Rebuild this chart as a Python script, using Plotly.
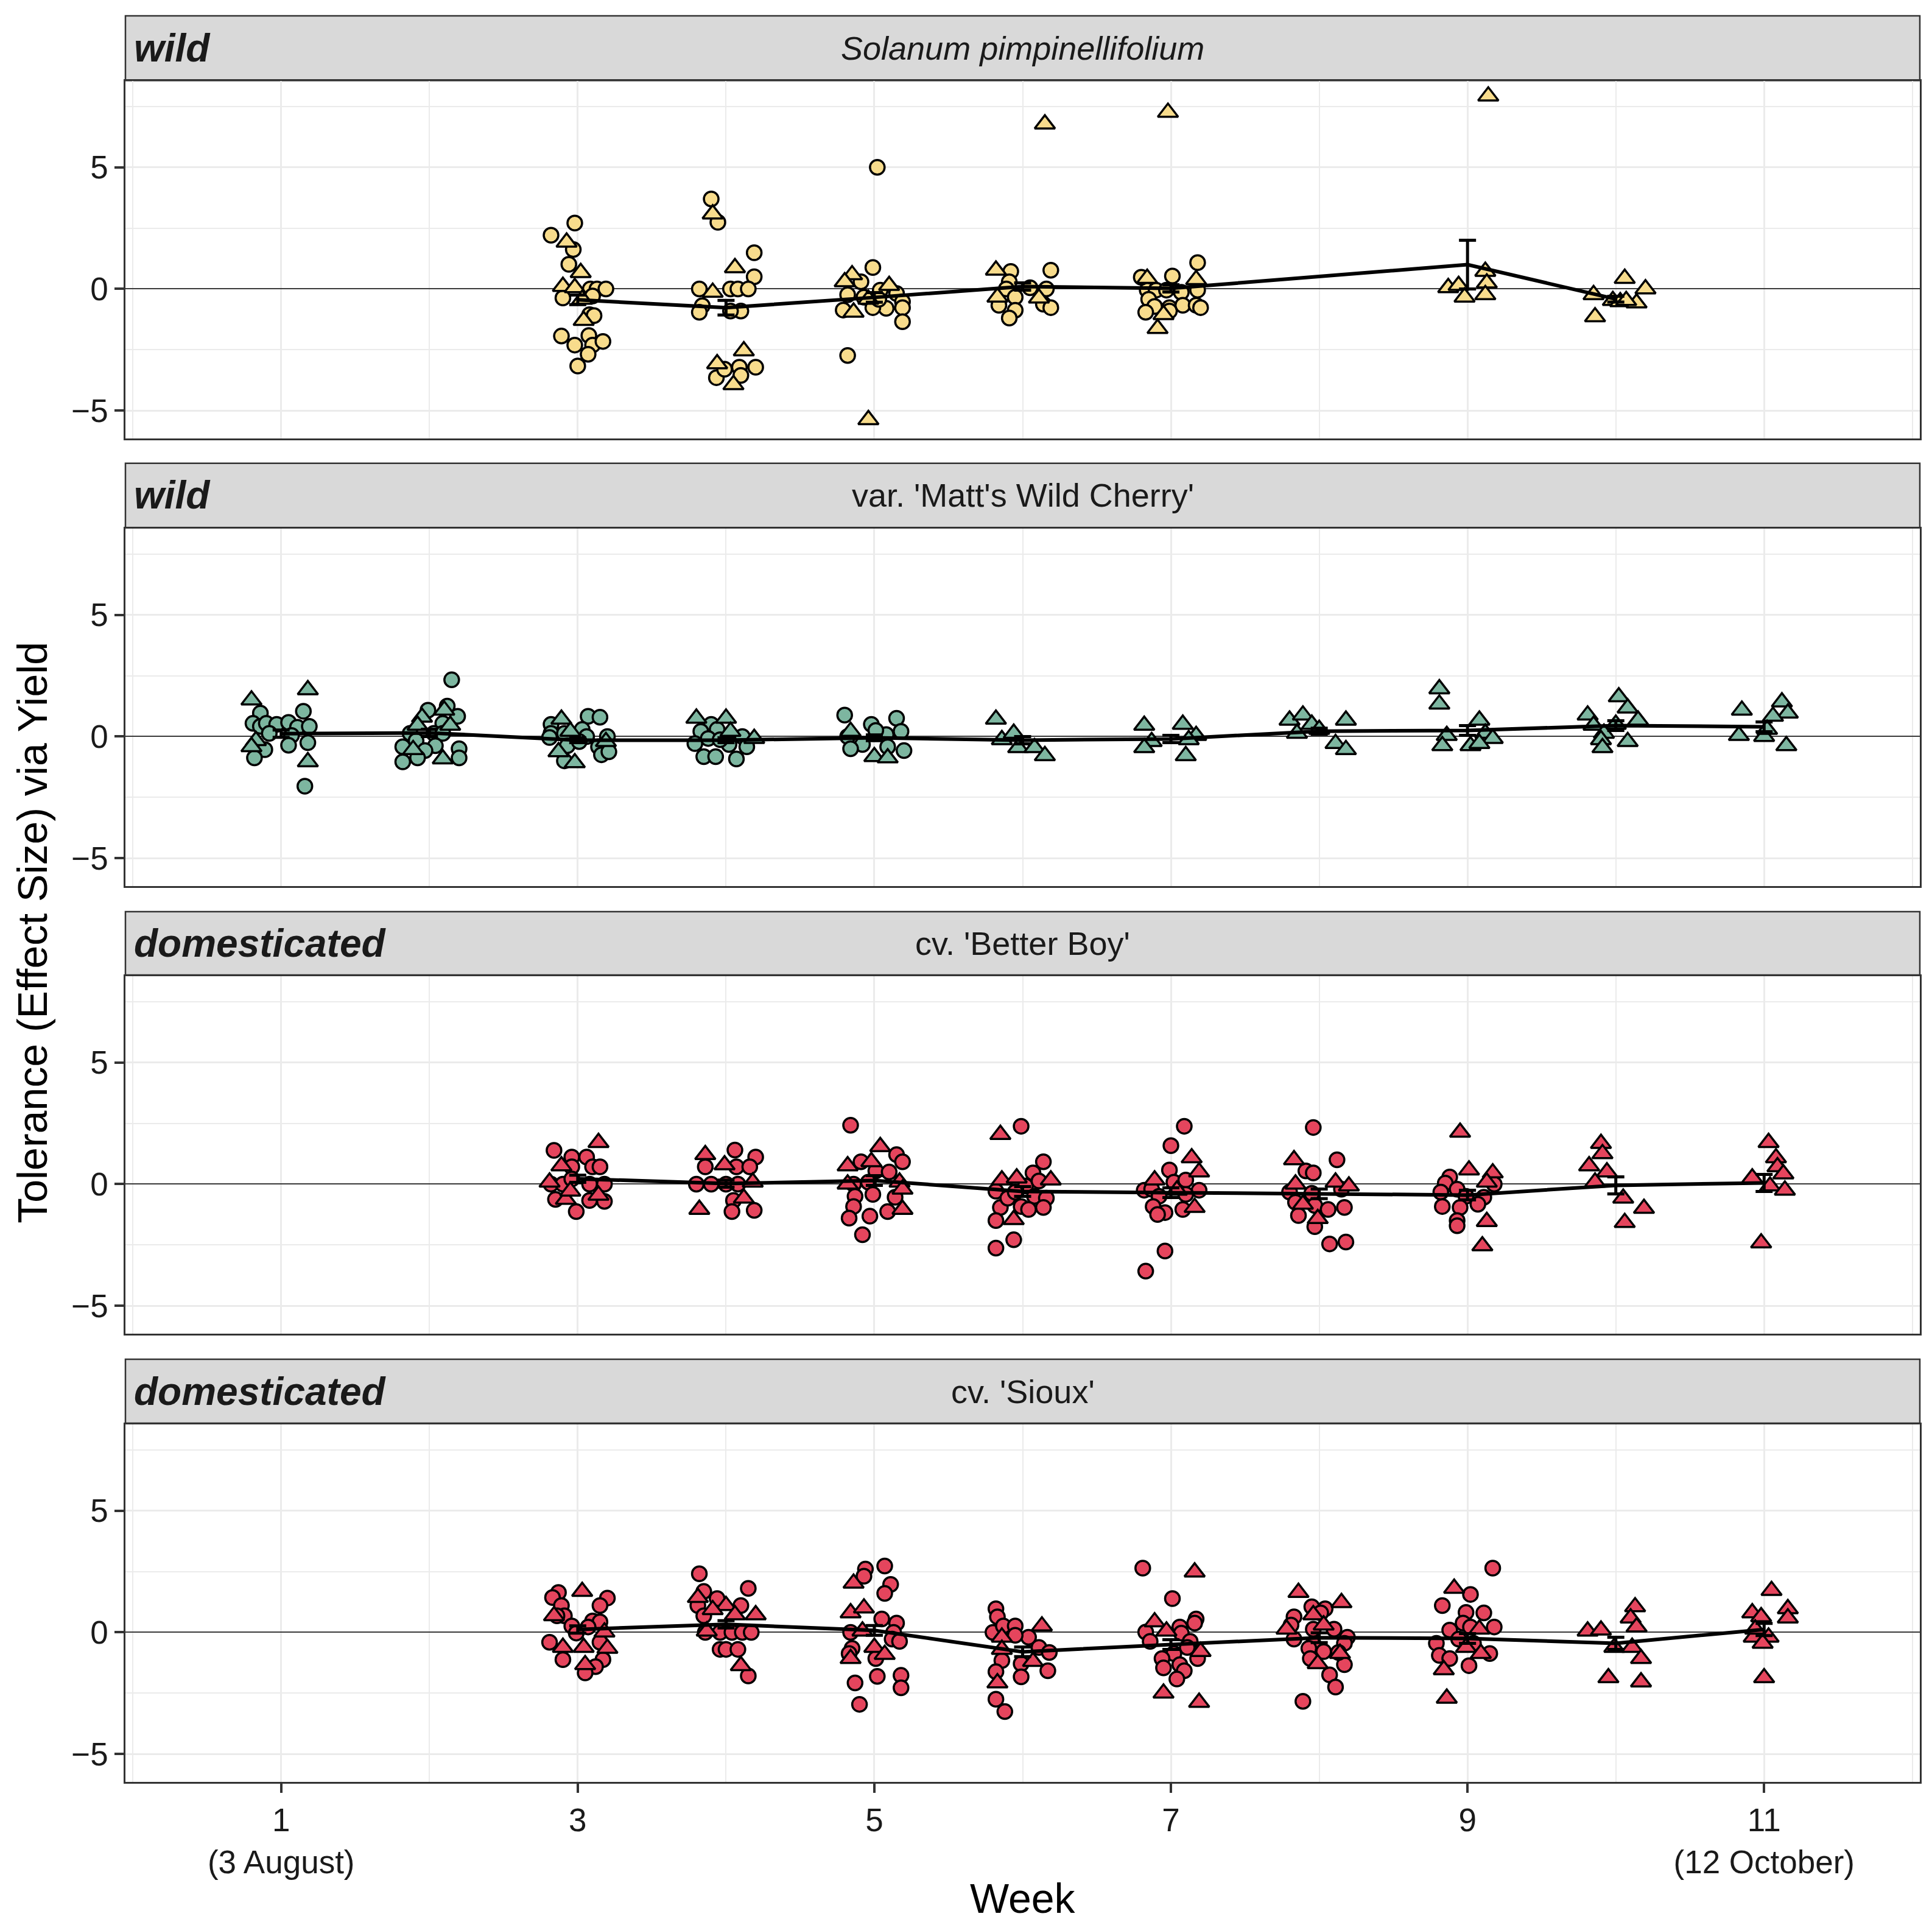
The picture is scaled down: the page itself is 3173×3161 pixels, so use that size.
import plotly.graph_objects as go

# ---- data (x = jittered week, y = effect size) ----
panel_titles = ["Solanum pimpinellifolium", "var. 'Matt's Wild Cherry'", "cv. 'Better Boy'", "cv. 'Sioux'"]
panel_groups = ["wild", "wild", "domesticated", "domesticated"]
panel_colors = ["#F8DC8C", "#7DB6A0", "#E5455D", "#E5455D"]

# Solanum pimpinellifolium
sp_circ_x = [2.82, 2.98, 2.97, 2.94, 2.90, 3.085, 3.13, 3.19, 3.10, 3.08, 3.11, 2.89, 2.98, 3.075, 3.10, 3.17, 3.07, 3.00,
             3.90, 3.945, 4.19, 4.19, 3.82, 4.03, 4.08, 4.15, 3.84, 3.82, 4.10, 4.03, 4.09, 4.20, 4.10, 3.935, 3.99,
             5.02, 4.99, 4.91, 4.82, 5.04, 5.15, 5.19, 5.19, 5.08, 4.99, 4.79, 5.19, 4.82, 4.93, 5.03,
             5.92, 6.19, 5.91, 5.89, 6.05, 6.16, 5.95, 5.84, 6.14, 6.19, 5.95, 5.91,
             7.18, 7.01, 6.84, 6.90, 6.97, 7.07, 7.18, 6.85, 6.89, 6.99, 7.08, 7.17, 7.20, 6.83, 6.99, 6.80]
sp_circ_y = [2.21, 2.71, 1.62, 1.01, -0.37, 0, 0, 0, -0.29, -1.06, -1.1, -1.94, -2.31, -1.92, -2.31, -2.16, -2.69, -3.17,
             3.70, 2.74, 1.49, 0.5, 0, 0, 0, 0, -0.69, -0.96, -0.91, -0.91, -3.22, -3.22, -3.56, -3.65, -3.3,
             5.0, 0.88, 0.29, -0.24, -0.05, -0.19, -0.53, -0.77, -0.80, -0.77, -0.87, -1.35, -2.74, -0.34, -0.43,
             0.72, 0.77, 0.29, 0, 0.05, 0, -0.34, -0.67, -0.63, -0.77, -0.88, -1.2,
             1.08, 0.53, -0.05, -0.05, -0.05, -0.14, -0.05, -0.43, -0.72, -0.77, -0.67, -0.67, -0.77, -0.96, -0.91, 0.48]
sp_tri_x = [2.925, 3.02, 2.90, 2.98, 3.03, 3.04,
            3.91, 4.06, 3.91, 4.12, 3.94, 4.05,
            4.85, 4.80, 5.10, 4.96, 4.86, 4.96,
            6.15, 5.82, 5.83, 6.11,
            6.98, 6.84, 7.17, 6.95, 6.91,
            9.14, 8.87, 8.94, 8.98, 9.12, 9.13, 9.12,
            10.06, 10.20, 9.85, 9.98, 10.03, 10.14, 9.86, 10.07]
sp_tri_y = [1.92, 0.67, 0.1, 0.05, -0.43, -1.30,
            3.08, 0.87, -0.14, -2.55, -3.08, -3.94,
            0.58, 0.29, 0.14, -0.43, -0.96, -5.38,
            6.78, 0.77, -0.34, -0.38,
            7.26, 0.43, 0.38, -1.06, -1.63,
            7.93, 0.05, 0.14, -0.34, 0.72, 0.24, -0.24,
            0.43, 0, -0.24, -0.48, -0.53, -0.58, -1.15, -0.48]
sp_weeks = [3, 4, 5, 6, 7, 9, 10]
sp_mean = [-0.45, -0.77, -0.35, 0.1, 0.02, 1.0, -0.42]
sp_se = [0.2, 0.3, 0.2, 0.15, 0.15, 1.0, 0.12]

# Matt's Wild Cherry
mwc_circ_x = [1.15, 0.86, 0.81, 0.86, 0.90, 0.97, 1.05, 1.11, 1.19, 0.92, 1.07, 0.89, 1.05, 1.18, 0.82, 1.16,
              2.15, 1.99, 2.12, 2.19, 2.09, 1.87, 2.03, 2.09, 1.91, 1.82, 2.04, 2.20, 1.97, 1.92, 1.82, 2.20,
              3.07, 3.15, 2.82, 3.03, 2.82, 2.91, 3.06, 3.20, 2.93, 3.14, 3.01, 3.16, 3.21, 2.91, 2.81,
              3.90, 3.83, 3.94, 3.88, 4.11, 3.79, 4.02, 4.14, 3.85, 3.93, 4.07, 3.96,
              4.80, 5.15, 4.98, 5.18, 5.08, 4.82, 5.01, 4.92, 5.09, 4.84, 5.20]
mwc_circ_y = [1.04, 0.96, 0.54, 0.42, 0.54, 0.5, 0.58, 0.38, 0.42, 0.13, 0.04, -0.54, -0.36, -0.25, -0.88, -2.04,
              2.33, 1.08, 1.25, 0.83, 0.54, 0.13, 0.13, 0.13, -0.17, -0.42, -0.38, -0.5, -0.58, -0.88, -1.04, -0.88,
              0.83, 0.79, 0.5, 0.29, 0.13, 0.13, 0, 0, -0.38, -0.42, -0.21, -0.75, -0.63, -1.0, -0.04,
              0.5, 0.21, 0.29, -0.08, 0, -0.29, -0.33, -0.42, -0.83, -0.83, -0.92, -0.13,
              0.88, 0.75, 0.5, 0.21, 0.08, 0, 0.25, -0.33, -0.42, -0.5, -0.58]
mwc_tri_x = [0.80, 1.18, 0.83, 0.80, 1.18,
             2.10, 1.95, 2.14, 1.92, 1.89, 2.09,
             2.89, 2.95, 3.19, 2.87, 2.98,
             3.80, 4.0, 4.03, 4.19,
             5.0, 5.09, 4.84,
             5.82, 5.86, 5.94, 5.97, 6.08, 6.15,
             6.82, 7.08, 7.17, 6.87, 6.82, 7.12, 7.10,
             7.80, 7.89, 8.18, 7.95, 7.85, 8.0, 8.11, 8.18,
             8.81, 8.81, 9.08, 8.86, 8.83, 9.12, 9.17, 9.02, 9.08,
             10.02, 10.08, 9.81, 10.15, 9.85, 10.0, 9.92, 9.90, 9.91, 10.08,
             11.12, 11.16, 10.85, 11.06, 10.83, 11.0, 11.02, 11.15]
mwc_tri_y = [1.5, 1.92, -0.17, -0.42, -1.04,
             1.08, 0.79, 0.46, 0.46, -0.54, -0.92,
             0.71, 0.21, -0.21, -0.63, -1.08,
             0.75, 0.75, 0.21, -0.08,
             -0.83, -0.88, 0.21,
             0.71, -0.13, 0.13, -0.46, -0.46, -0.79,
             0.46, 0.5, 0.04, -0.21, -0.46, -0.13, -0.79,
             0.67, 0.88, 0.67, 0.5, 0.13, 0.29, -0.29, -0.54,
             1.96, 1.33, 0.67, 0.04, -0.38, 0.13, -0.08, -0.38, -0.29,
             1.63, 1.17, 0.88, 0.67, 0.46, 0.5, 0.13, -0.13, -0.46, -0.21,
             1.42, 0.96, 1.08, 0.83, 0.04, 0, 0.29, -0.38]
mwc_weeks = [1, 2, 3, 4, 5, 6, 7, 8, 9, 10, 11]
mwc_mean = [0.12, 0.15, -0.15, -0.15, -0.05, -0.15, -0.1, 0.22, 0.25, 0.45, 0.4]
mwc_se = [0.15, 0.15, 0.1, 0.1, 0.12, 0.15, 0.15, 0.12, 0.2, 0.2, 0.2]

# Better Boy
bb_circ_x = [2.84, 2.96, 3.06, 2.96, 3.10, 3.15, 2.82, 2.90, 3.08, 3.18, 2.96, 2.85, 3.08, 3.18, 2.99,
             4.06, 4.20, 3.86, 4.07, 4.16, 3.80, 3.90, 4.0, 4.08, 4.05, 4.04, 4.19,
             4.84, 5.15, 5.19, 4.91, 5.01, 5.10, 4.86, 4.96, 4.99, 4.87, 5.14, 4.86, 4.83, 4.97, 5.09, 4.92,
             5.82, 5.85, 5.82, 5.82, 5.90, 5.99, 6.14, 6.07, 6.02, 6.11, 5.95, 6.08, 6.16, 5.99, 6.04, 6.14, 5.94,
             7.09, 7.0, 6.99, 6.82, 6.87, 7.02, 7.10, 7.19, 7.10, 6.92, 6.88, 6.96, 6.91, 7.08, 6.96, 6.83,
             7.96, 8.12, 7.91, 7.96, 8.15, 7.80, 7.95, 7.84, 7.97, 8.17, 8.06, 7.86, 7.97, 8.07, 8.18,
             8.88, 8.85, 8.93, 8.82, 9.11, 8.99, 9.18, 8.83, 8.95, 9.07, 8.93, 8.93]
bb_circ_y = [1.39, 1.11, 1.11, 0.71, 0.71, 0.71, 0, 0, 0, 0, 0.21, -0.63, -0.67, -0.71, -1.13,
             1.4, 1.11, 0.71, 0.71, 0.71, 0, 0, 0, 0, -0.67, -1.13, -1.08,
             2.42, 1.21, 0.92, 0.92, 0.54, 0.5, 0, 0.08, -0.42, -0.5, -0.54, -0.92, -1.4, -1.32, -1.13, -2.08,
             -0.29, -0.96, -1.5, -2.63, -0.58, 2.38, 0.92, 0.46, -0.08, 0.13, -0.33, -0.5, -0.58, -0.92, -1.04, -0.96, -2.29,
             2.38, 1.58, 0.58, -0.25, -0.21, 0.08, 0.17, -0.25, -0.42, -0.5, -0.92, -1.17, -1.25, -1.04, -2.75, -3.58,
             2.33, 1.0, 0.54, 0.46, -0.21, -0.33, -0.38, -0.75, -0.88, -0.96, -1.04, -1.29, -1.75, -2.46, -2.38,
             0.29, 0.04, -0.21, -0.33, -0.54, -0.5, 0, -0.92, -0.96, -0.83, -1.5, -1.71]
bb_tri_x = [3.14, 2.89, 2.81, 2.92, 3.14, 2.95,
            3.86, 3.99, 4.18, 4.12, 3.82,
            5.04, 4.82, 4.98, 5.17, 5.19, 5.19, 4.82,
            5.85, 5.86, 6.19, 5.96, 5.94,
            7.14, 7.19, 6.89, 7.16, 7.04,
            7.83, 7.84, 8.11, 8.20, 7.99, 7.89,
            8.95, 9.01, 9.17, 9.13, 9.13, 9.10,
            9.90, 9.91, 9.82, 9.94, 9.86, 10.05, 10.19, 10.06,
            11.03, 11.08, 11.09, 10.92, 11.13, 11.04, 11.14, 10.98]
bb_tri_y = [1.71, 0.75, 0.08, -0.63, -0.46, -0.29,
            1.21, 0.79, 0.08, -0.58, -1.04,
            1.54, 0.75, 0.92, 0.08, -0.21, -1.04, 0,
            2.04, 0.17, 0.17, 0.25, -1.46,
            1.08, 0.5, 0.17, -0.96, -0.25,
            1.0, 0, 0.08, -0.08, -1.42, -0.83,
            2.13, 0.58, 0.46, 0.08, -1.54, -2.54,
            1.67, 1.25, 0.75, 0.5, 0.08, -0.58, -1.0, -1.58,
            1.71, 1.08, 0.71, 0.25, 0.42, -0.08, -0.25, -2.42]
bb_weeks = [3, 4, 5, 6, 7, 8, 9, 10, 11]
bb_mean = [0.22, 0.02, 0.15, -0.3, -0.35, -0.4, -0.45, -0.05, 0.05]
bb_se = [0.15, 0.15, 0.2, 0.2, 0.2, 0.2, 0.2, 0.35, 0.35]

# Sioux
sx_circ_x = [2.87, 2.83, 2.89, 2.91, 2.86, 3.20, 3.15, 3.10, 3.15, 3.07, 2.96, 2.99, 2.81, 3.15, 2.90, 3.17, 3.12, 3.05,
             3.82, 4.15, 3.85, 3.94, 4.10, 3.81, 3.85, 3.86, 3.96, 4.04, 4.11, 4.17, 3.96, 4.0, 4.08, 4.15,
             4.94, 5.07, 4.93, 5.11, 5.07, 5.05, 5.15, 5.13, 4.84, 5.12, 5.17, 4.85, 4.83, 5.01, 5.02, 5.18, 5.18, 4.87, 4.90,
             5.82, 5.83, 5.80, 5.87, 5.86, 5.82, 5.82, 5.88, 5.95, 6.04, 5.95, 6.11, 6.18, 5.99, 6.17, 5.99,
             6.81, 7.01, 7.17, 7.16, 7.06, 6.83, 6.86, 7.07, 7.13, 7.11, 7.02, 6.94, 7.06, 6.95, 7.09, 7.04, 7.18,
             7.83, 7.95, 8.04, 8.01, 7.81, 7.96, 8.10, 7.83, 8.19, 7.96, 8.17, 7.93, 8.03, 7.94, 8.17, 8.13, 8.07, 8.11, 7.89,
             9.17, 9.02, 8.83, 8.99, 9.11, 8.97, 9.02, 9.18, 8.88, 8.79, 8.94, 9.04, 8.81, 8.88, 9.15, 9.01]
sx_circ_y = [1.64, 1.43, 1.1, 0.68, 0.68, 1.41, 1.1, 0.47, 0.43, 0.22, 0.26, -0.03, -0.41, -0.41, -1.12, -1.12, -1.41, -1.67,
             2.41, 1.81, 1.68, 1.39, 1.10, 1.10, 0.68, 0, 0, 0, 0, 0, -0.70, -0.70, -0.70, -1.79,
             2.6, 2.73, 2.31, 1.97, 1.60, 0.55, 0.38, 0, 0, -0.28, -0.37, -0.66, -0.87, -1.08, -1.81, -1.77, -2.28, -2.08, -2.96,
             0.97, 0.64, 0, 0.26, -1.16, -1.62, -2.75, -3.26, 0.26, -0.2, -0.12, -0.62, -0.83, -1.29, -1.58, -1.83,
             2.64, 1.39, 0.55, 0.38, 0.22, 0.01, -0.37, -0.03, -0.37, -0.62, -0.87, -1.08, -1.33, -1.46, -1.58, -1.92, -1.08,
             0.64, 1.05, 0.97, 0.8, 0.3, 0.13, 0.13, -0.28, -0.2, -0.49, -0.45, -0.66, -0.79, -1.08, -1.33, -0.83, -1.75, -2.25, -2.84,
             2.64, 1.56, 1.1, 0.82, 0.8, 0.38, 0.22, 0.22, 0.09, -0.45, -0.28, -0.45, -0.95, -1.08, -0.87, -1.37]
sx_tri_x = [3.03, 2.84, 3.18, 2.90, 3.04, 3.20, 3.05,
            3.81, 4.0, 4.06, 4.20, 3.91, 3.87, 4.10,
            4.86, 4.84, 4.93, 4.92, 5.0, 5.07, 4.84,
            5.86, 5.86, 5.83, 6.13, 6.07,
            7.16, 6.89, 6.97, 7.20, 6.95, 7.19,
            7.86, 8.15, 7.96, 8.03, 7.78, 8.14, 7.99,
            8.91, 9.08, 8.99, 9.09, 8.84, 8.86,
            9.81, 9.90, 10.13, 10.10, 10.14, 9.99, 10.11, 10.17, 9.95, 10.17,
            11.05, 11.16, 11.16, 10.92, 10.98, 10.93, 11.03, 10.99, 11.0, 10.94]
sx_tri_y = [1.68, 0.68, 0.01, -0.62, -0.62, -0.66, -1.33,
            1.43, 1.10, 0.72, 0.72, 0.93, 0.05, -1.37,
            2.02, 0.8, 1.0, 0.05, -0.62, -0.91, -1.08,
            -0.2, -0.7, -2.08, 0.26, -1.2,
            2.48, 0.43, 0.05, -0.79, -2.5, -2.88,
            1.64, 1.22, 0.72, 0.3, 0.13, -0.87, -1.29,
            1.81, 0.13, -0.62, -0.87, -1.54, -2.71,
            0.05, 0.09, 1.05, 0.59, 0.22, -0.62, -0.62, -1.08, -1.87, -2.04,
            1.72, 0.97, 0.59, 0.8, 0.64, -0.2, -0.2, -0.45, -1.87, 0.13]
sx_weeks = [3, 4, 5, 6, 7, 8, 9, 10, 11]
sx_mean = [0.12, 0.33, 0.08, -0.8, -0.5, -0.22, -0.25, -0.45, 0.12]
sx_se = [0.15, 0.15, 0.2, 0.2, 0.2, 0.2, 0.2, 0.25, 0.25]

week_ticks = [1, 3, 5, 7, 9, 11]
week_labels = ["1<br>(3 August)", "3", "5", "7", "9", "11<br>(12 October)"]

panels = [
    (sp_circ_x, sp_circ_y, sp_tri_x, sp_tri_y, sp_weeks, sp_mean, sp_se),
    (mwc_circ_x, mwc_circ_y, mwc_tri_x, mwc_tri_y, mwc_weeks, mwc_mean, mwc_se),
    (bb_circ_x, bb_circ_y, bb_tri_x, bb_tri_y, bb_weeks, bb_mean, bb_se),
    (sx_circ_x, sx_circ_y, sx_tri_x, sx_tri_y, sx_weeks, sx_mean, sx_se),
]

# ---- layout geometry (paper fractions) ----
W, H = 3173, 3161
plot_domains = [(0.7607, 0.9631), (0.5072, 0.7097), (0.2538, 0.4562), (0.0, 0.2024)]
strip_domains = [(0.9634, 1.0), (0.7103, 0.7466), (0.4569, 0.4928), (0.2031, 0.2393)]
FONT = "Liberation Sans, Arial, sans-serif"
GRID = "#EBEBEB"
EDGE = "#333333"

fig = go.Figure()
for i, (cx, cy, tx, ty, wk, mn, se) in enumerate(panels):
    xa = "x" if i == 0 else "x%d" % (i + 1)
    ya = "y" if i == 0 else "y%d" % (i + 1)
    fill = panel_colors[i]
    fig.add_trace(go.Scatter(x=cx, y=cy, mode="markers", xaxis=xa, yaxis=ya,
                             marker=dict(symbol="circle", size=24, color=fill,
                                         line=dict(color="black", width=3.5))))
    fig.add_trace(go.Scatter(x=tx, y=ty, mode="markers", xaxis=xa, yaxis=ya,
                             marker=dict(symbol="triangle-up", size=29, color=fill,
                                         line=dict(color="black", width=3.5))))
    fig.add_trace(go.Scatter(x=wk, y=mn, mode="lines", xaxis=xa, yaxis=ya,
                             line=dict(color="black", width=6),
                             error_y=dict(type="data", array=se, color="black",
                                          thickness=5, width=14)))

layout = dict(
    width=W, height=H,
    margin=dict(l=198, r=28, t=18, b=243),
    paper_bgcolor="white", plot_bgcolor="white",
    showlegend=False,
    font=dict(family=FONT, color="#1A1A1A", size=54),
)
shapes = []
annotations = []
for i in range(4):
    xkey = "xaxis" if i == 0 else "xaxis%d" % (i + 1)
    ykey = "yaxis" if i == 0 else "yaxis%d" % (i + 1)
    ya = "y" if i == 0 else "y%d" % (i + 1)
    bottom = (i == 3)
    layout[xkey] = dict(
        domain=[0, 1], anchor=ya, range=[-0.05, 12.05],
        tickmode="array", tickvals=week_ticks, ticktext=week_labels,
        showticklabels=bottom, ticks="outside" if bottom else "",
        ticklen=15, tickwidth=3.5, tickcolor=EDGE,
        showgrid=True, gridcolor=GRID, gridwidth=3,
        minor=dict(dtick=1, tick0=0, showgrid=True, gridcolor=GRID, gridwidth=1.8),
        showline=True, mirror=True, linecolor=EDGE, linewidth=2.5,
        zeroline=False, tickfont=dict(size=53, color="#1A1A1A"),
    )
    if i > 0:
        layout[xkey]["matches"] = "x"
    layout[ykey] = dict(
        domain=list(plot_domains[i]), anchor="x" if i == 0 else "x%d" % (i + 1),
        range=[-6.15, 8.55], tickvals=[-5, 0, 5], ticktext=["\u22125", "0", "5"],
        ticks="outside", ticklen=15, tickwidth=3.5, tickcolor=EDGE,
        showgrid=True, gridcolor=GRID, gridwidth=3,
        minor=dict(tickvals=[-2.5, 2.5, 7.5], showgrid=True, gridcolor=GRID, gridwidth=1.8),
        showline=True, mirror=True, linecolor=EDGE, linewidth=2.5,
        zeroline=True, zerolinecolor="#3A3A3A", zerolinewidth=2,
        tickfont=dict(size=53, color="#1A1A1A"),
    )
    s0, s1 = strip_domains[i]
    shapes.append(dict(type="rect", xref="paper", yref="paper", x0=0, x1=1, y0=s0, y1=s1,
                       fillcolor="#D9D9D9", line=dict(color=EDGE, width=2.5), layer="below"))
    annotations.append(dict(xref="paper", yref="paper", x=0.004, y=(s0 + s1) / 2,
                            xanchor="left", yanchor="middle", showarrow=False,
                            text="<b><i>%s</i></b>" % panel_groups[i],
                            font=dict(size=64, color="#1A1A1A", family=FONT)))
    title = panel_titles[i]
    if i == 0:
        title = "<i>%s</i>" % title
    annotations.append(dict(xref="paper", yref="paper", x=0.5, y=(s0 + s1) / 2,
                            xanchor="center", yanchor="middle", showarrow=False,
                            text=title, font=dict(size=54, color="#1A1A1A", family=FONT)))

annotations.append(dict(xref="paper", yref="paper", x=0.5, y=-0.066, xanchor="center",
                        yanchor="middle", showarrow=False, text="Week",
                        font=dict(size=68, color="black", family=FONT)))
annotations.append(dict(xref="paper", yref="paper", x=-0.052, y=0.481, xanchor="center",
                        yanchor="middle", showarrow=False, textangle=-90,
                        text="Tolerance (Effect Size) via Yield",
                        font=dict(size=68, color="black", family=FONT)))
layout["shapes"] = shapes
layout["annotations"] = annotations
fig.update_layout(**layout)

fig.write_html("out.html")
